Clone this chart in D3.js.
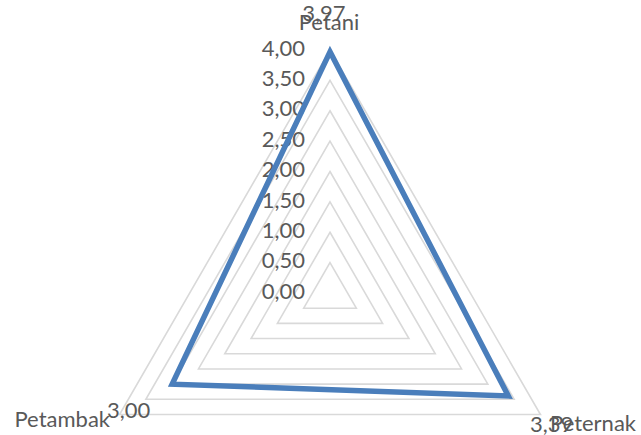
<!DOCTYPE html>
<html>
<head>
<meta charset="utf-8">
<script src="https://cdn.jsdelivr.net/npm/d3@7/dist/d3.min.js"></script>
<style>
  html, body { margin: 0; padding: 0; background: #fff; }
  svg { display: block; }
</style>
</head>
<body>
<svg id="chart" width="641" height="435"></svg>
<script>
// Radar data
const categories = ["Petani", "Peternak", "Petambak"];
const values = [3.97, 3.39, 3.00];
const tickValues = [0, 0.5, 1, 1.5, 2, 2.5, 3, 3.5, 4];
const tickLabels = ["0,00", "0,50", "1,00", "1,50", "2,00", "2,50", "3,00", "3,50", "4,00"];
const valueLabels = ["3,97", "3,39", "3,00"];

const W = 641, H = 435;
const cx = 330, cy = 293, R = 243;
const font = "Lato, 'Open Sans', sans-serif";
const fontSize = 22;
const textColor = "#595959";

const svg = d3.select("#chart");
const r = d3.scaleLinear().domain([0, 4]).range([0, R]);
const angle = d3.scalePoint().domain(categories).range([0, 2 * Math.PI * 2 / 3]);

const pt = (cat, v) => {
  const a = angle(cat);
  return [cx + r(v) * Math.sin(a), cy - r(v) * Math.cos(a)];
};

// Grid rings
const ringLine = d3.line().curve(d3.curveLinearClosed);
svg.append("g").selectAll("path")
  .data(tickValues.filter(v => v > 0))
  .join("path")
  .attr("d", v => ringLine(categories.map(c => pt(c, v))))
  .attr("fill", "none")
  .attr("stroke", "#d9d9d9")
  .attr("stroke-width", 1.6);

// Value axis labels
svg.append("g").selectAll("text")
  .data(tickValues)
  .join("text")
  .attr("x", cx - 25)
  .attr("y", v => cy - r(v) - 2)
  .attr("dy", "0.35em")
  .attr("text-anchor", "end")
  .attr("font-family", font)
  .attr("font-size", fontSize)
  .attr("fill", textColor)
  .text((v, i) => tickLabels[i]);

// Series polygon
svg.append("path")
  .attr("d", ringLine(categories.map((c, i) => pt(c, values[i]))))
  .attr("fill", "none")
  .attr("stroke", "#4a7ebb")
  .attr("stroke-width", 5.5)
  .attr("stroke-linejoin", "miter");

// Category labels
const catPos = [
  { x: 329, y: 30, anchor: "middle" },
  { x: 550, y: 431, anchor: "start" },
  { x: 110, y: 427, anchor: "end" }
];
svg.append("g").selectAll("text")
  .data(categories)
  .join("text")
  .attr("x", (d, i) => catPos[i].x)
  .attr("y", (d, i) => catPos[i].y)
  .attr("text-anchor", (d, i) => catPos[i].anchor)
  .attr("font-family", font)
  .attr("font-size", fontSize)
  .attr("fill", textColor)
  .text(d => d);

// Data labels
const valPos = [
  { x: 324, y: 21, anchor: "middle" },
  { x: 530, y: 432, anchor: "start" },
  { x: 107, y: 418, anchor: "start" }
];
svg.append("g").selectAll("text")
  .data(values)
  .join("text")
  .attr("x", (d, i) => valPos[i].x)
  .attr("y", (d, i) => valPos[i].y)
  .attr("text-anchor", (d, i) => valPos[i].anchor)
  .attr("font-family", font)
  .attr("font-size", fontSize)
  .attr("fill", textColor)
  .text((d, i) => valueLabels[i]);
</script>
</body>
</html>
